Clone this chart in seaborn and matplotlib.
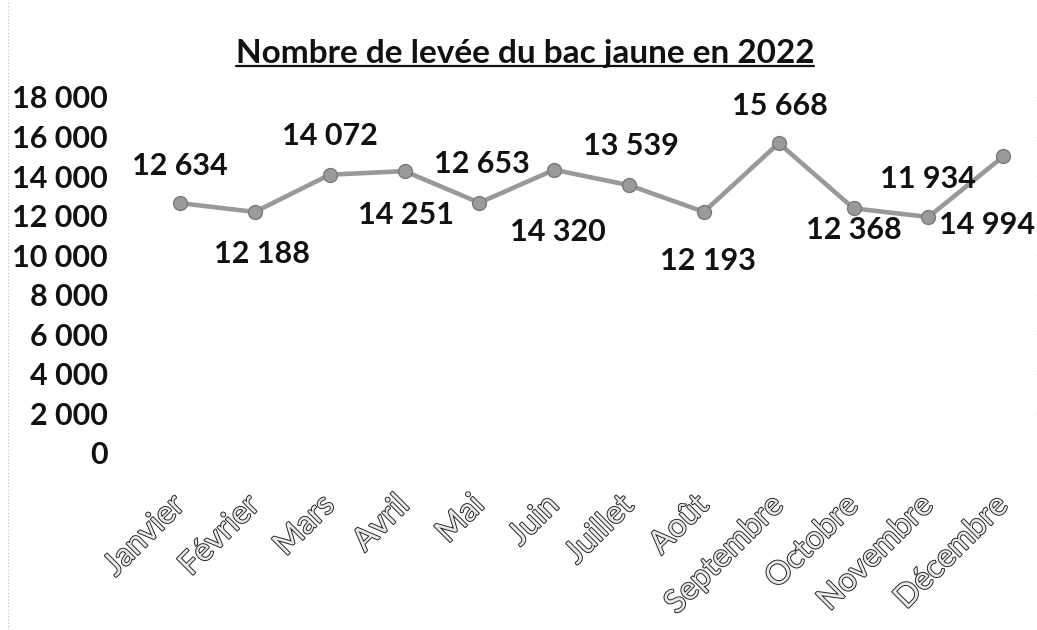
import matplotlib
matplotlib.use("Agg")
import matplotlib.pyplot as plt
import matplotlib.patheffects as pe
from matplotlib.ticker import FuncFormatter, MultipleLocator
from matplotlib.lines import Line2D
import seaborn as sns
import pandas as pd

# ---- data ----
months = ["Janvier", "Février", "Mars", "Avril", "Mai", "Juin", "Juillet",
          "Août", "Septembre", "Octobre", "Novembre", "Décembre"]
levees = [12634, 12188, 14072, 14251, 12653, 14320, 13539,
          12193, 15668, 12368, 11934, 14994]
title_text = "Nombre de levée du bac jaune en 2022"

# ---- label offsets (pixels, styling only) ----
label_offsets = [(0, 37), (7, -42), (0, 39), (1, -44), (2, 39), (4, -62),
                 (2, 39), (4, -49), (1, 37), (0, -22), (0, 38), (-16, -69)]

sns.set_theme(style="white")
plt.rcParams["font.family"] = ["Lato", "DejaVu Sans"]

df = pd.DataFrame({"mois": months, "levees": levees})

fig = plt.figure(figsize=(10.37, 6.30), dpi=100)
ax = fig.add_axes([142.6 / 1037, (630 - 453) / 630, (1037 - 142.6) / 1037, (453 - 97) / 630])

sns.lineplot(data=df, x="mois", y="levees", sort=False, ax=ax,
             color="#999999", linewidth=3.3, marker="o", markersize=10,
             markerfacecolor="#9a9a9a", markeredgecolor="#7a7a7a", markeredgewidth=1.0)

ax.set_xlim(-0.5, 11.45)
ax.set_ylim(0, 18000)
ax.yaxis.set_major_locator(MultipleLocator(2000))
ax.yaxis.set_major_formatter(FuncFormatter(lambda v, p: f"{int(v):,}".replace(",", " ")))
ax.grid(axis="y", color="#e6e6e6", linestyle=(0, (1, 8)), linewidth=0.6)
for s in ax.spines.values():
    s.set_visible(False)
ax.set_xlabel("")
ax.set_ylabel("")

ax.tick_params(axis="y", length=0, pad=25, labelsize=22)
for t in ax.get_yticklabels():
    t.set_fontweight("bold")
    t.set_color("#111111")

ax.set_xticks(range(len(months)))
ax.set_xticklabels(months)
ax.tick_params(axis="x", length=0, pad=34, labelsize=23)
for t in ax.get_xticklabels():
    t.set_rotation(45)
    t.set_ha("right")
    t.set_va("center")
    t.set_rotation_mode("anchor")
    t.set_color("#e8e8e8")
    t.set_path_effects([pe.withStroke(linewidth=1.3, foreground="#1a1a1a")])

for i, (v, (dx, dy)) in enumerate(zip(levees, label_offsets)):
    ax.annotate(f"{v:,}".replace(",", " "), (i, v), xytext=(dx, dy),
                textcoords="offset pixels", ha="center", va="center",
                fontsize=22, fontweight="bold", color="#111111",
                annotation_clip=False)

title = fig.text(525 / 1037, 1 - 54 / 630, title_text, ha="center", va="center",
                 fontsize=24, fontweight="bold", color="#111111")

fig.canvas.draw()
bb = title.get_window_extent().transformed(fig.transFigure.inverted())
uy = bb.y0 + 0.004
fig.add_artist(Line2D([bb.x0, bb.x1], [uy, uy], transform=fig.transFigure,
                      color="#111111", linewidth=1.6))
fig.add_artist(Line2D([8 / 1037, 8 / 1037], [0, 1], transform=fig.transFigure,
                      color="#bbbbbb", linewidth=0.8, linestyle=(0, (1, 2))))

fig.savefig("out.png", dpi=100, facecolor="white")
